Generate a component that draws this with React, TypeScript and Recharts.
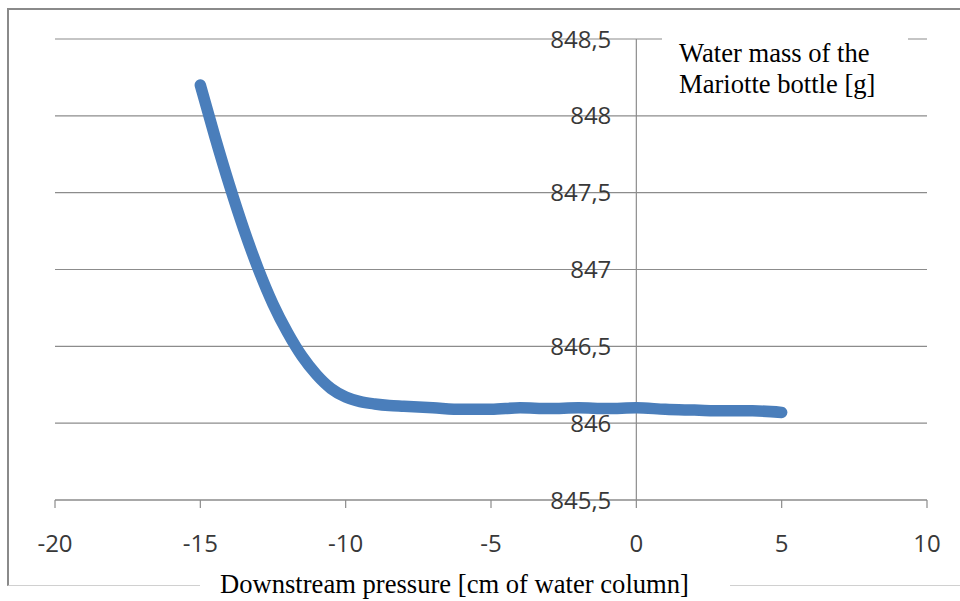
import React from "react";
import { CartesianGrid, Line, LineChart, ReferenceDot, ReferenceLine, XAxis, YAxis } from "recharts";

// downstream pressure [cm of water column]
const pressure = [
  -15, -14.5, -14, -13.5, -13, -12.5, -12, -11.5, -11, -10.5, -10, -9.5, -9, -8.5, -8, -7, -6, -5, -4, -3, -2, -1, 0, 1, 2,
  3, 4, 5,
];
// water mass of the Mariotte bottle [g]
const mass = [
  848.2, 847.865, 847.55, 847.26, 847.0, 846.775, 846.59, 846.435, 846.315, 846.225, 846.17, 846.14, 846.125, 846.115,
  846.11, 846.1, 846.09, 846.09, 846.1, 846.095, 846.1, 846.095, 846.1, 846.09, 846.085, 846.08, 846.08, 846.07,
];

const xTicks = [-20, -15, -10, -5, 0, 5, 10];
const yTicks = [845.5, 846, 846.5, 847, 847.5, 848, 848.5];

const data = pressure.map((x, i) => ({ x, m: mass[i] }));

const fmt = (v: number) => String(v).replace(".", ",");
const tickFont = { fontFamily: "'Open Sans', sans-serif", fontSize: 24, fill: "#383838" };
const serif = "'Liberation Serif', 'Times New Roman', serif";

export default function App() {
  return (
    <div style={{ position: "absolute", left: 0, top: 0, width: 960, height: 601, overflow: "hidden", background: "#fff" }}>
      {/* outer frame */}
      <div
        style={{
          position: "absolute",
          left: 7,
          top: 8,
          width: 980,
          height: 575,
          borderTop: "2.5px solid #8a8a8a",
          borderLeft: "2.5px solid #8a8a8a",
          borderBottom: "1px solid #d0d0d0",
        }}
      />
      <div style={{ position: "absolute", left: 0, top: 0 }}>
        <LineChart width={960} height={601} data={data} margin={{ top: 39, right: 33, bottom: 61, left: 55 }}>
          <CartesianGrid horizontal vertical={false} stroke="#8c8c8c" strokeWidth={1.2} />
          <XAxis
            dataKey="x"
            type="number"
            domain={[-20, 10]}
            ticks={xTicks}
            height={40}
            axisLine={{ stroke: "#8c8c8c", strokeWidth: 1.2 }}
            tickLine={{ stroke: "#8c8c8c", strokeWidth: 1.2 }}
            tickSize={8}
            tickMargin={27}
            tick={tickFont}
          />
          <YAxis type="number" domain={[845.5, 848.5]} ticks={yTicks} hide />
          <ReferenceLine x={0} stroke="#8c8c8c" strokeWidth={1.2} />
          {yTicks.map((v) => (
            <ReferenceDot
              key={v}
              x={0}
              y={v}
              r={0}
              fill="none"
              stroke="none"
              label={{ value: fmt(v), position: "left", offset: 25, ...tickFont }}
            />
          ))}
          <Line
            dataKey="m"
            type="monotone"
            stroke="#4a7ebb"
            strokeWidth={11.5}
            strokeLinecap="round"
            strokeLinejoin="round"
            dot={false}
            isAnimationActive={false}
          />
        </LineChart>
      </div>
      <div
        style={{
          position: "absolute",
          left: 662,
          top: 35,
          width: 246,
          paddingTop: 3,
          paddingLeft: 17,
          boxSizing: "border-box",
          background: "#fff",
          fontFamily: serif,
          fontSize: 26.6,
          lineHeight: "31px",
          color: "#000",
          whiteSpace: "nowrap",
        }}
      >
        Water mass of the
        <br />
        Mariotte bottle [g]
      </div>
      <div
        style={{
          position: "absolute",
          left: 200,
          top: 569,
          width: 530,
          paddingLeft: 20,
          boxSizing: "border-box",
          background: "#fff",
          fontFamily: serif,
          fontSize: 26.6,
          lineHeight: "31px",
          color: "#000",
          whiteSpace: "nowrap",
        }}
      >
        Downstream pressure [cm of water column]
      </div>
    </div>
  );
}
